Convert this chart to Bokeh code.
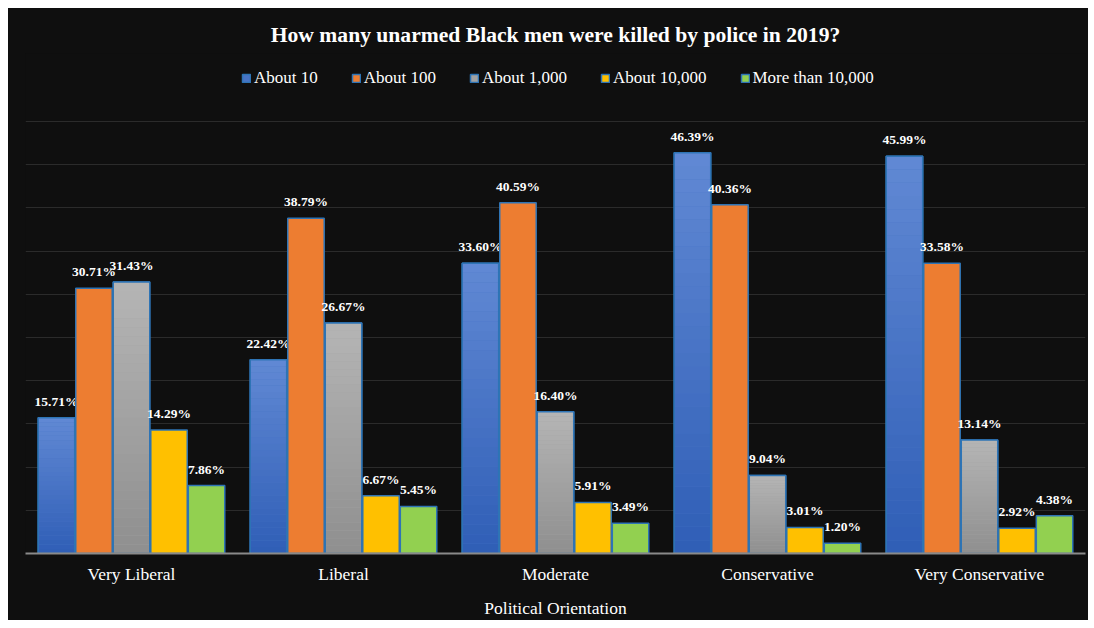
from bokeh.plotting import figure
from bokeh.models import Legend, LegendItem, ColumnDataSource, FactorRange, FixedTicker, Range1d
from bokeh.transform import dodge
from bokeh.core.properties import value
from bokeh.embed import file_html
from bokeh.resources import INLINE

categories = ["Very Liberal", "Liberal", "Moderate", "Conservative", "Very Conservative"]
series = ["About 10", "About 100", "About 1,000", "About 10,000", "More than 10,000"]
about_10 = [15.71, 22.42, 33.60, 46.39, 45.99]
about_100 = [30.71, 38.79, 40.59, 40.36, 33.58]
about_1000 = [31.43, 26.67, 16.40, 9.04, 13.14]
about_10000 = [14.29, 6.67, 5.91, 3.01, 2.92]
more_10000 = [7.86, 5.45, 3.49, 1.20, 4.38]
values = [about_10, about_100, about_1000, about_10000, more_10000]
y_ticks = [0, 5, 10, 15, 20, 25, 30, 35, 40, 45, 50]

# (top colour, bottom colour) for gradient fills
fills = [("#6189d4", "#2f5eb6"), ("#ed7d31", "#ed7d31"), ("#b5b5b5", "#8f8f8f"),
         ("#ffc000", "#ffc000"), ("#92d050", "#92d050")]
outline = "#2e74b5"

SERIF = "Liberation Serif"
BG = "#0f0f0f"

# frame spans 500 px; the 0..50 axis occupies the lower 432 px, legend sits above
FRAME_H = 500
AXIS_H = 432
y_top = 50 + (FRAME_H - AXIS_H) * 50 / AXIS_H

p = figure(width=1080, height=612, x_range=FactorRange(factors=categories, range_padding=0),
           y_range=Range1d(0, y_top), output_backend="svg", toolbar_location=None,
           min_border_left=17, min_border_right=3, min_border_top=45, min_border_bottom=0,
           background_fill_color=BG, border_fill_color=BG)
p.outline_line_color = None
p.margin = (8, 0, 0, 8)
p.styles = {"background-color": BG}

p.title.text = "How many unarmed Black men were killed by police in 2019?"
p.title.align = "center"
p.title.text_color = "white"
p.title.text_font = SERIF
p.title.text_font_style = "bold"
p.title.text_font_size = "21.6px"
p.title.standoff = 14

def hexrgb(h):
    return tuple(int(h[i:i + 2], 16) for i in (1, 3, 5))

def mix(c1, c2, t):
    a, b = hexrgb(c1), hexrgb(c2)
    return "#%02x%02x%02x" % tuple(int(round(a[i] + (b[i] - a[i]) * t)) for i in range(3))

slot = 0.177
bw = 0.172
N = 30
items = []
for i, (name, vals) in enumerate(zip(series, values)):
    off = (i - 2) * slot
    src = ColumnDataSource(dict(cat=categories, v=vals, lab=["%.2f%%" % v for v in vals]))
    top_c, bot_c = fills[i]
    base = p.vbar(x=dodge("cat", off, range=p.x_range), top="v", bottom=0, width=bw, source=src,
                  fill_color=mix(top_c, bot_c, 0.5), line_color=outline, line_width=1.5)
    items.append(LegendItem(label=name, renderers=[base]))
    if top_c != bot_c:
        for k in range(N):
            frac_b = k / N
            frac_t = (k + 1) / N
            s = ColumnDataSource(dict(cat=categories,
                                      b=[v * frac_b for v in vals],
                                      t=[v * frac_t for v in vals]))
            p.vbar(x=dodge("cat", off, range=p.x_range), top="t", bottom="b", width=bw, source=s,
                   fill_color=mix(bot_c, top_c, (k + 0.5) / N), line_color=None)
        p.vbar(x=dodge("cat", off, range=p.x_range), top="v", bottom=0, width=bw, source=src,
               fill_alpha=0, line_color=outline, line_width=1.5)
    p.text(x=dodge("cat", off, range=p.x_range), y="v", text="lab", source=src,
           text_align="center", text_baseline="bottom", y_offset=-9,
           text_color="white", text_font=value(SERIF), text_font_style="bold",
           text_font_size="13.5px")

legend = Legend(items=items, orientation="horizontal", location=(216, 465),
                background_fill_alpha=0, border_line_color=None, padding=0, margin=0,
                glyph_width=10, glyph_height=10, label_standoff=3, spacing=33,
                label_text_color="white", label_text_font=SERIF, label_text_font_size="17px")
p.add_layout(legend, "center")

p.yaxis.visible = False
p.yaxis.ticker = FixedTicker(ticks=y_ticks)
p.ygrid.ticker = FixedTicker(ticks=y_ticks)
p.ygrid.grid_line_color = "#2b2b2b"
p.ygrid.grid_line_width = 1
p.xgrid.grid_line_color = None

ax = p.xaxis[0]
ax.axis_line_color = "#8a8a8a"
ax.axis_line_width = 2
ax.major_tick_line_color = None
ax.minor_tick_line_color = None
ax.major_label_text_color = "white"
ax.major_label_text_font = SERIF
ax.major_label_text_font_size = "17.5px"
ax.major_label_standoff = 4
ax.axis_label = "Political Orientation"
ax.axis_label_text_color = "white"
ax.axis_label_text_font = SERIF
ax.axis_label_text_font_style = "normal"
ax.axis_label_text_font_size = "17.5px"
ax.axis_label_standoff = 11

open("out.html", "w").write(file_html(p, INLINE))
